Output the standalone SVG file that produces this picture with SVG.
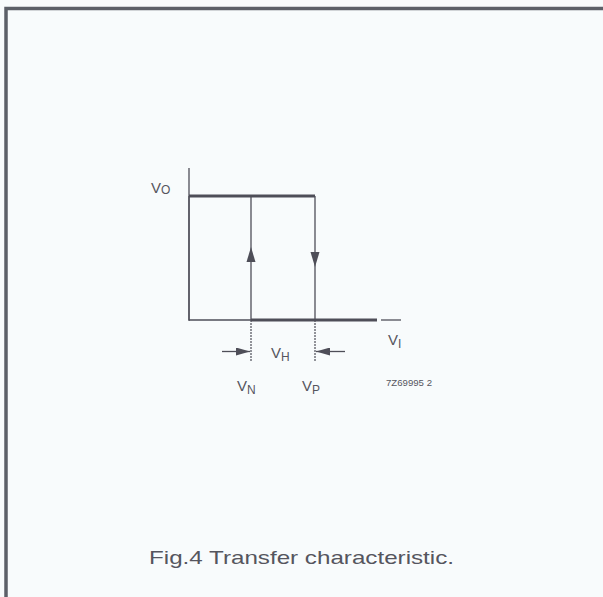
<svg xmlns="http://www.w3.org/2000/svg" width="603" height="597" viewBox="0 0 603 597">
<defs>
<style>
.ln{stroke:#4e4e58;fill:none}
.thick{stroke-width:3}
.thin{stroke-width:1.3}
.dash{stroke-width:1.2;stroke-dasharray:2 1}
.lbl{font-family:"Liberation Sans",Arial,sans-serif;fill:#55555e}
.head{fill:#4e4e58}
</style>
<marker id="ah" viewBox="0 0 12 8" refX="12" refY="4" markerWidth="14" markerHeight="8" orient="auto" markerUnits="userSpaceOnUse" preserveAspectRatio="none"><path d="M0,0 L12,4 L0,8 Z" class="head"/></marker>
</defs>
<rect width="603" height="597" fill="#f8fbfc"/>
<path d="M6,597 V8.5 H603" stroke="#5c6068" stroke-width="3.5" fill="none"/>
<g id="axes">
<line class="ln thin" x1="189" y1="168" x2="189" y2="321"/>
<line class="ln thin" x1="189" y1="320" x2="377" y2="320"/>
<line class="ln thin" x1="381" y1="320" x2="401" y2="320"/>
</g>
<g id="connectors">
<path class="ln thick" d="M189,196 H315"/>
<path class="ln thick" d="M251,320 H377"/>
<line class="ln thin" x1="189" y1="196" x2="189" y2="320" stroke-width="3"/>
<line class="ln thin" x1="251" y1="196" x2="251" y2="320"/>
<line class="ln thin" x1="315" y1="196" x2="315" y2="320"/>
<line class="ln dash" x1="251" y1="320" x2="251" y2="362"/>
<line class="ln dash" x1="315" y1="320" x2="315" y2="362"/>
<path class="head" d="M251,247 L255.5,262 L246.5,262 Z"/>
<path class="head" d="M315,267 L310.5,252 L319.5,252 Z"/>
<line class="ln thin" x1="222" y1="351.5" x2="250" y2="351.5" marker-end="url(#ah)"/>
<line class="ln thin" x1="345" y1="351.5" x2="316" y2="351.5" marker-end="url(#ah)"/>
</g>
<g id="labels">
<text class="lbl" x="151" y="193" font-size="15">V<tspan font-size="12" dy="1">O</tspan></text>
<text class="lbl" x="271" y="358" font-size="15">V<tspan font-size="12" dy="3">H</tspan></text>
<text class="lbl" x="237" y="391" font-size="15">V<tspan font-size="12" dy="3">N</tspan></text>
<text class="lbl" x="302" y="391" font-size="15">V<tspan font-size="12" dy="3">P</tspan></text>
<text class="lbl" x="388" y="345" font-size="15">V<tspan font-size="12" dy="3">I</tspan></text>
<text class="lbl" x="386" y="386" font-size="9" textLength="46" lengthAdjust="spacingAndGlyphs">7Z69995 2</text>
<text class="lbl" x="149" y="564" font-size="19" textLength="305" lengthAdjust="spacingAndGlyphs">Fig.4  Transfer characteristic.</text>
</g>
</svg>
